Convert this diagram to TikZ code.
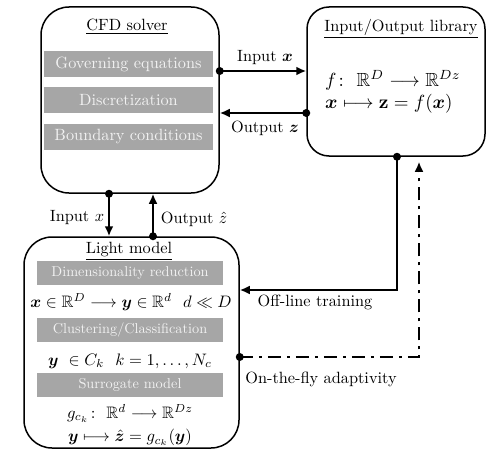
\RequirePackage{fix-cm}
\documentclass[tikz,border=0pt]{standalone}
\usepackage{graphicx}
\usepackage{amsmath,amssymb,bm}
\usetikzlibrary{arrows.meta}
\definecolor{barg}{RGB}{166,166,166}
\definecolor{bartxt}{RGB}{242,242,242}
\newcommand\txa[1]{\scalebox{1.63}{#1}}
\newcommand\txb[1]{\scalebox{1.43}{#1}}
\newcommand\mtha[1]{\scalebox{1.66}{#1}}
\newcommand\mthb[1]{\scalebox{1.9}{#1}}
\begin{document}
\begin{tikzpicture}[x=1pt,y=-1pt,
  every node/.style={font=\fontsize{10}{12}\selectfont},
  box/.style={draw, line width=1.5pt, rounded corners=28pt, inner sep=0pt},
  bar/.style={fill=barg, text=bartxt, inner sep=0pt, minimum height=26pt, minimum width=169pt},
  lbar/.style={bar, minimum width=186pt, minimum height=24pt},
  lbl/.style={inner sep=0pt},
  arr/.style={line width=2.6pt, -{Latex[length=10pt,width=9pt]}},
  dda/.style={arr, dash pattern=on 13pt off 6pt on 3pt off 6pt},
  dot/.style={circle, fill=black, inner sep=0pt, minimum size=8pt}
]
\useasboundingbox (0,0) rectangle (498,460);
% boxes
\node[box, minimum width=178pt, minimum height=186pt] (cfd) at (130,100) {};
\node[box, rounded corners=22pt, minimum width=178pt, minimum height=149pt] (io) at (396,81.5) {};
\node[box, minimum width=215pt, minimum height=211pt] (light) at (131.5,342.5) {};
% CFD content
\node[lbl] (cfdt) at (127,27) {\txa{\underline{CFD solver}}};
\node[bar] (b1) at (128.5,64) {\txa{Governing equations}};
\node[bar] (b2) at (128.5,100) {\txa{Discretization}};
\node[bar] (b3) at (128.5,136.5) {\txa{Boundary conditions}};
% IO content
\node[lbl] (iot) at (401,29) {\txa{\underline{Input/Output library}}};
\node[lbl, anchor=west] (f1) at (325,80) {\mthb{$f\colon\ \mathbb{R}^D \longrightarrow \mathbb{R}^{Dz}$}};
\node[lbl, anchor=west] (f2) at (325,104) {\mthb{$\bm{x}\longmapsto \mathbf{z} = f(\bm{x})$}};
% Light content
\node[lbl] (lt) at (129,251) {\txa{\underline{Light model}}};
\node[lbar] (l1) at (130,273) {\txb{Dimensionality reduction}};
\node[lbl] (m1) at (131,302) {\mtha{$\bm{x}\in\mathbb{R}^D \longrightarrow \bm{y}\in\mathbb{R}^d\ \ d \ll D$}};
\node[lbar] (l2) at (130,330) {\txb{Clustering/Classification}};
\node[lbl] (m2) at (130,361) {\mtha{$\bm{y}\ \in C_k\ \ k=1,\dots,N_c$}};
\node[lbar] (l3) at (130,385) {\txb{Surrogate model}};
\node[lbl] (m3) at (130,413.5) {\mtha{$g_{c_k}\colon\ \mathbb{R}^d \longrightarrow \mathbb{R}^{Dz}$}};
\node[lbl] (m4) at (130,437.5) {\mtha{$\bm{y}\longmapsto \hat{\bm{z}} = g_{c_k}(\bm{y})$}};
% connectors
\coordinate (a) at ([yshift=29pt]cfd.east);
\draw[arr] (a) -- (a -| io.west);
\node[dot] (da) at (a) {};
\node[lbl] (la) at (265,58) {\txa{Input $\bm{x}$}};

\coordinate (b) at ([yshift=-31.5pt]io.west);
\draw[arr] (b) -- (b -| cfd.east);
\node[dot] (db) at (b) {};
\node[lbl] (lb) at (265,128) {\txa{Output $\bm{z}$}};

\coordinate (c) at ([xshift=-21pt]cfd.south);
\draw[arr] (c) -- (c |- light.north);
\node[dot] (dc) at (c) {};
\node[lbl] (lc) at (77,218) {\txa{Input $x$}};

\coordinate (d) at ([xshift=21.5pt]light.north);
\draw[arr] (d) -- (d |- cfd.south);
\node[dot] (dd) at (d) {};
\node[lbl] (ld) at (194,219) {\txa{Output $\hat{z}$}};

\coordinate (e) at ([xshift=1pt]io.south);
\draw[arr] (e) |- ([yshift=52.5pt]light.east);
\node[dot] (de) at (e) {};
\node[lbl] (le) at (315,302) {\txa{Off-line training}};

\coordinate (f) at ([yshift=-14.5pt]light.east);
\draw[dda] (f) -| ([xshift=23pt,yshift=-5pt]io.south);
\node[dot] (df) at (f) {};
\node[lbl] (lf) at (321,379) {\txa{On-the-fly adaptivity}};
\end{tikzpicture}
\end{document}
